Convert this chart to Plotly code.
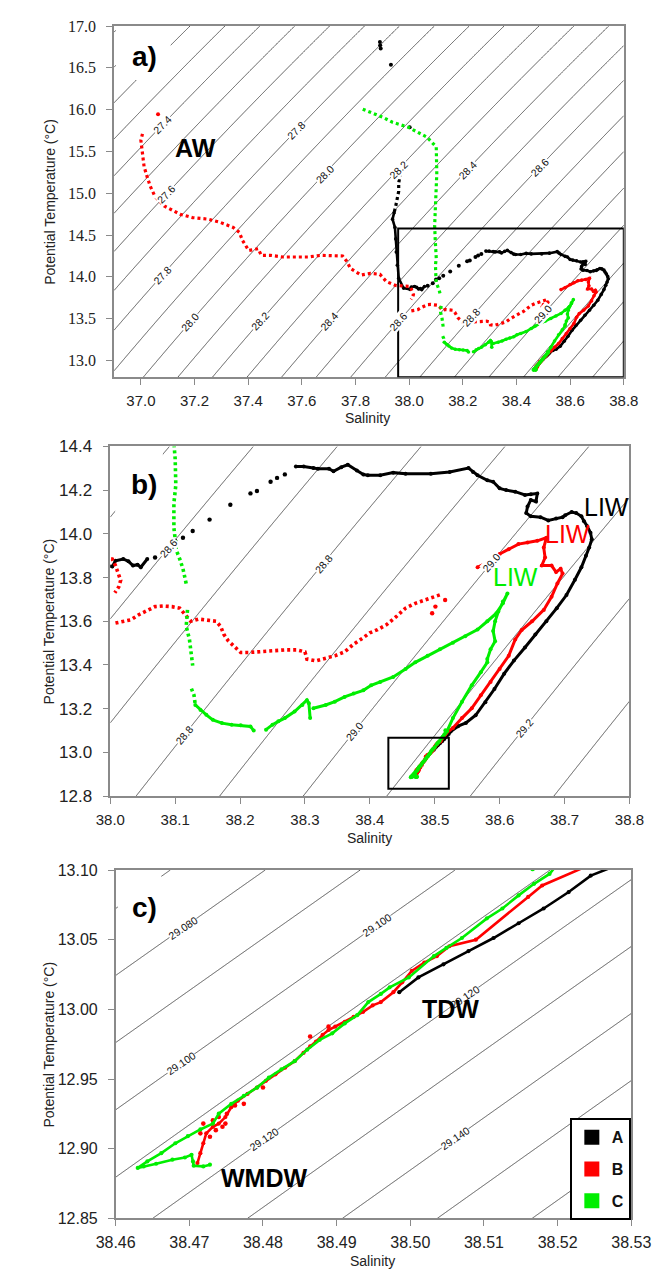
import math
import numpy as np
import plotly.graph_objects as go

# ---------------------------------------------------------------------------
# Profile data (salinity, potential temperature) for stations A, B, C.
# *_LINE : dense parts of the profile, drawn as continuous traces
# *_DOT  : sparsely sampled parts, drawn as dotted traces
# *_PTS  : isolated samples, drawn as single markers
# (None, None) separates unconnected pieces.
# ---------------------------------------------------------------------------
A_PTS = [(37.891, 16.81), (37.892, 16.77), (37.894, 16.73), (37.932, 16.536), (38.002, 15.79),
         (38.069, 13.892), (38.088, 13.923), (38.100, 13.968), (38.112, 13.982), (38.127, 14.013),
         (38.153, 14.065), (38.185, 14.133), (38.216, 14.185), (38.226, 14.196), (38.247, 14.238),
         (38.257, 14.256), (38.269, 14.272)]
A_DOT = [(37.967, 15.239), (37.961, 15.121), (37.961, 15.024), (37.956, 14.926), (37.950, 14.847),
         (37.944, 14.768)]
A_LINE = [(37.944, 14.768), (37.938, 14.690), (37.947, 14.591), (37.950, 14.454), (37.952, 14.296),
          (37.956, 14.140), (37.961, 13.983), (37.979, 13.865), (38.003, 13.850), (38.008, 13.877),
          (38.020, 13.885), (38.028, 13.874), (38.035, 13.855), (38.042, 13.859), (38.047, 13.847),
          (38.057, 13.885), (None, None),
          (38.286, 14.308), (38.298, 14.308), (38.313, 14.301), (38.320, 14.298), (38.337, 14.298),
          (38.344, 14.286), (38.356, 14.305), (38.366, 14.316), (38.380, 14.290), (38.390, 14.271),
          (38.397, 14.268), (38.416, 14.268), (38.436, 14.280), (38.455, 14.275), (38.494, 14.275),
          (38.523, 14.283), (38.552, 14.301), (38.559, 14.283), (38.566, 14.268), (38.581, 14.245),
          (38.590, 14.238), (38.600, 14.208), (38.610, 14.200), (38.624, 14.193), (38.639, 14.178),
          (38.648, 14.181), (38.658, 14.185), (38.656, 14.148), (38.648, 14.155), (38.643, 14.125),
          (38.641, 14.095), (38.648, 14.080), (38.663, 14.076), (38.675, 14.061), (38.687, 14.070),
          (38.697, 14.076), (38.701, 14.085), (38.711, 14.100), (38.718, 14.095), (38.726, 14.080),
          (38.730, 14.058), (38.735, 14.035), (38.740, 14.005), (38.742, 13.975), (38.738, 13.937),
          (38.733, 13.900), (38.726, 13.847), (38.716, 13.790), (38.703, 13.720), (38.688, 13.660),
          (38.672, 13.600), (38.655, 13.540), (38.639, 13.480), (38.622, 13.420), (38.607, 13.360),
          (38.592, 13.290), (38.578, 13.230), (38.563, 13.170), (38.548, 13.135), (38.536, 13.120),
          (38.5245, 13.0960), (38.5215, 13.0842), (38.5181, 13.0724), (38.5147, 13.0618),
          (38.5113, 13.0512), (38.5079, 13.0418), (38.5045, 13.0323), (38.5011, 13.0229),
          (38.4985, 13.0123)]

B_PTS = [(37.064, 15.946), (38.516, 13.697), (38.501, 13.667), (38.496, 13.637),
         (38.4715, 12.9110), (38.4719, 12.9180), (38.4732, 12.9204), (38.4740, 12.9227),
         (38.4749, 12.9180), (38.4751, 12.9251), (38.4736, 12.9133), (38.4728, 12.9086),
         (38.4745, 12.9157), (38.4762, 12.9310), (38.4774, 12.9322), (38.4800, 12.9439),
         (38.4864, 12.9805), (38.4889, 12.9876)]
B_DOT = [(37.006, 15.711), (37.000, 15.633), (37.006, 15.475), (37.012, 15.318), (37.023, 15.200),
         (37.035, 15.083), (37.052, 14.965), (37.087, 14.847), (37.146, 14.749), (37.192, 14.709),
         (37.251, 14.690), (37.297, 14.650), (37.344, 14.591), (37.367, 14.532), (37.379, 14.434),
         (37.402, 14.316), (37.437, 14.336), (37.449, 14.257), (37.484, 14.257), (37.530, 14.237),
         (37.577, 14.237), (37.624, 14.237), (37.670, 14.257), (37.705, 14.257), (37.752, 14.249),
         (37.769, 14.179), (37.781, 14.100), (37.821, 14.022), (37.856, 14.042), (37.891, 14.030),
         (37.915, 13.943), (37.950, 13.896), (37.985, 13.884), (38.003, 13.885), (38.008, 13.855),
         (38.016, 13.787), (38.013, 13.757), (38.007, 13.730), (None, None),
         (38.008, 13.592), (38.020, 13.600), (38.032, 13.607), (38.044, 13.630), (38.057, 13.649),
         (38.069, 13.667), (38.081, 13.670), (38.095, 13.667), (38.107, 13.660), (38.114, 13.637),
         (38.119, 13.615), (38.124, 13.600), (38.136, 13.610), (38.148, 13.607), (38.163, 13.600),
         (38.170, 13.577), (38.175, 13.540), (38.182, 13.510), (38.192, 13.480), (38.201, 13.457),
         (38.213, 13.457), (38.226, 13.460), (38.240, 13.464), (38.255, 13.469), (38.269, 13.469),
         (38.288, 13.469), (38.300, 13.460), (38.303, 13.427), (38.317, 13.419), (38.337, 13.435),
         (38.346, 13.442), (38.361, 13.460), (38.375, 13.495), (38.390, 13.525), (38.400, 13.547),
         (38.412, 13.562), (38.426, 13.585), (38.441, 13.622), (38.455, 13.660), (38.470, 13.682),
         (38.484, 13.697), (38.499, 13.712), (38.511, 13.724)]
B_LINE = [(38.566, 13.847), (38.581, 13.870), (38.600, 13.908), (38.614, 13.930), (38.629, 13.953),
          (38.643, 13.960), (38.658, 13.968), (38.672, 13.982), (38.668, 13.937), (38.670, 13.892),
          (38.665, 13.855), (38.680, 13.855), (38.687, 13.825), (38.694, 13.840), (38.697, 13.818),
          (38.689, 13.773), (38.680, 13.712), (38.668, 13.652), (38.650, 13.600), (38.634, 13.560),
          (38.624, 13.517), (38.614, 13.442), (38.600, 13.382), (38.586, 13.322), (38.571, 13.262),
          (38.557, 13.202), (38.542, 13.157), (38.528, 13.112), (38.5179, 13.0889), (38.5160, 13.0807),
          (38.5089, 13.0500), (38.5053, 13.0453), (38.5036, 13.0382), (38.5019, 13.0335),
          (38.5002, 13.0276), (38.4989, 13.0194), (38.4977, 13.0123), (38.4960, 13.0052),
          (38.4949, 13.0029), (38.4936, 12.9982), (38.4923, 12.9946), (38.4911, 12.9911),
          (38.4898, 12.9876), (38.4889, 12.9852), (38.4881, 12.9817), (38.4872, 12.9769),
          (38.4864, 12.9734), (38.4855, 12.9687), (38.4843, 12.9628), (38.4830, 12.9581),
          (38.4817, 12.9534), (38.4804, 12.9487), (38.4792, 12.9439), (38.4779, 12.9393),
          (38.4766, 12.9345), (38.4757, 12.9298), (38.4749, 12.9227), (38.4740, 12.9180),
          (38.4732, 12.9157), (38.4723, 12.9110), (38.4719, 12.9039), (38.4715, 12.8968),
          (38.4711, 12.8897)]

C_PTS = [(38.5166, 13.1007)]
C_DOT = [(37.827, 16.005), (37.856, 15.966), (37.903, 15.907), (37.938, 15.849), (37.996, 15.790),
         (38.031, 15.731), (38.066, 15.672), (38.101, 15.554), (38.103, 15.397), (38.103, 15.239),
         (38.101, 15.082), (38.099, 14.926), (38.096, 14.768), (38.095, 14.611), (38.097, 14.454),
         (38.100, 14.343), (38.101, 14.223), (38.098, 14.140), (38.098, 14.028), (38.100, 13.968),
         (38.102, 13.923), (38.107, 13.885), (38.112, 13.840), (38.117, 13.772), (None, None),
         (38.119, 13.652), (38.117, 13.577), (38.122, 13.517), (38.125, 13.442), (38.127, 13.397),
         (None, None), (38.125, 13.292), (38.129, 13.262), (38.131, 13.217)]
C_LINE = [(38.131, 13.217), (38.139, 13.194), (38.148, 13.172), (38.158, 13.149), (38.172, 13.134),
          (38.187, 13.127), (38.201, 13.124), (38.216, 13.119), (38.221, 13.100), (None, None),
          (38.240, 13.104), (38.250, 13.127), (38.259, 13.142), (38.269, 13.157), (38.284, 13.187),
          (38.296, 13.217), (38.303, 13.239), (38.306, 13.225), (38.308, 13.157), (None, None),
          (38.313, 13.202), (38.332, 13.217), (38.346, 13.232), (38.361, 13.254), (38.375, 13.269),
          (38.390, 13.284), (38.402, 13.307), (38.416, 13.322), (38.436, 13.345), (38.455, 13.382),
          (38.470, 13.412), (38.489, 13.442), (38.508, 13.472), (38.528, 13.502), (38.547, 13.532),
          (38.566, 13.562), (38.581, 13.600), (38.595, 13.637), (38.605, 13.682), (38.612, 13.727),
          (38.605, 13.690), (38.598, 13.645), (38.593, 13.600), (38.590, 13.555), (38.593, 13.509),
          (38.586, 13.472), (38.581, 13.427), (38.581, 13.412), (38.571, 13.367), (38.557, 13.307),
          (38.542, 13.232), (38.528, 13.157), (38.5189, 13.0972), (38.5168, 13.0901),
          (38.5147, 13.0818), (38.5125, 13.0724), (38.5104, 13.0653), (38.5070, 13.0512),
          (38.5049, 13.0441), (38.5032, 13.0382), (38.4998, 13.0229), (38.4972, 13.0158),
          (38.4960, 13.0111), (38.4943, 13.0052), (38.4928, 12.9958), (38.4911, 12.9899),
          (38.4894, 12.9828), (38.4877, 12.9781), (38.4860, 12.9711), (38.4843, 12.9628),
          (38.4825, 12.9569), (38.4808, 12.9510), (38.4792, 12.9439), (38.4774, 12.9380),
          (38.4757, 12.9322), (38.4740, 12.9251), (38.4732, 12.9180), (38.4715, 12.9138),
          (38.4698, 12.9090), (38.4681, 12.9039), (38.4662, 12.8968), (38.4643, 12.8909),
          (38.4630, 12.8862), (38.4638, 12.8873), (38.4655, 12.8892), (38.4677, 12.8921),
          (38.4694, 12.8937), (38.4703, 12.8956), (38.4705, 12.8909), (38.4706, 12.8878),
          (38.4719, 12.8873), (38.4728, 12.8885)]

STATIONS = ["A", "B", "C"]
COLORS = {"A": "#000000", "B": "#ff0000", "C": "#00ee00"}
SERIES = {"A": (A_LINE, A_DOT, A_PTS), "B": (B_LINE, B_DOT, B_PTS), "C": (C_LINE, C_DOT, C_PTS)}

# Axis ranges and tick values of the three panels
A_XRANGE, A_YRANGE = [36.9, 38.8], [12.8, 17.0]
B_XRANGE, B_YRANGE = [38.0, 38.8], [12.8, 14.4]
C_XRANGE, C_YRANGE = [38.46, 38.53], [12.85, 13.10]
A_XTICKS = [37.0, 37.2, 37.4, 37.6, 37.8, 38.0, 38.2, 38.4, 38.6, 38.8]
A_YTICKS = [13.0, 13.5, 14.0, 14.5, 15.0, 15.5, 16.0, 16.5, 17.0]
B_XTICKS = [38.0, 38.1, 38.2, 38.3, 38.4, 38.5, 38.6, 38.7, 38.8]
B_YTICKS = [12.8, 13.0, 13.2, 13.4, 13.6, 13.8, 14.0, 14.2, 14.4]
C_XTICKS = [38.46, 38.47, 38.48, 38.49, 38.50, 38.51, 38.52, 38.53]
C_YTICKS = [12.85, 12.90, 12.95, 13.00, 13.05, 13.10]

# Isopycnal spacing; every second isopycnal carries a label
A_SIG_STEP, B_SIG_STEP, C_SIG_STEP = 0.1, 0.1, 0.01
SIGMA_BIAS = 0.008  # density offset applied to the isopycnal field

# Where the isopycnal labels sit (salinity, temperature)
A_ISO_LABELS = [(37.100, 15.825), (37.565, 15.754), (37.086, 14.988), (37.695, 15.236),
                (37.960, 15.283), (38.219, 15.283), (38.481, 15.318), (37.076, 14.022),
                (37.156, 13.456), (37.415, 13.468), (37.670, 13.468), (37.950, 13.468),
                (38.229, 13.515), (38.491, 13.550)]
B_ISO_LABELS = [(38.0928, 13.936), (38.3145, 13.864), (38.1174, 13.080), (38.378, 13.098),
                (38.588, 13.870), (38.633, 13.112)]
C_ISO_LABELS = [(38.4678, 13.0583), (38.4678, 12.9614), (38.4942, 13.0604), (38.4793, 12.9069),
                (38.5060, 13.0088), (38.5053, 12.9076)]


def sigma_theta(S, T):
    """UNESCO EOS-80 density anomaly at the surface (kg m-3)."""
    rw = (999.842594 + 6.793952e-2 * T - 9.095290e-3 * T ** 2 + 1.001685e-4 * T ** 3
          - 1.120083e-6 * T ** 4 + 6.536332e-9 * T ** 5)
    a = 8.24493e-1 - 4.0899e-3 * T + 7.6438e-5 * T ** 2 - 8.2467e-7 * T ** 3 + 5.3875e-9 * T ** 4
    b = -5.72466e-3 + 1.0227e-4 * T - 1.6546e-6 * T ** 2
    c = 4.8314e-4
    return rw + a * S + b * S ** 1.5 + c * S ** 2 - 1000.0 + SIGMA_BIAS


W, H = 672, 1279
FONT = "Liberation Sans, Arial, sans-serif"
AXIS_GREY = "#8a8a8a"


def px_x(v):
    return v / W


def px_y(v):
    return 1 - v / H


def unzip(pairs):
    return [p[0] for p in pairs], [p[1] for p in pairs]


# plot-area pixel boxes (left, right, top, bottom)
A_BOX = (100, 642, 17.3, 373.7)
B_BOX = (96, 648, 444, 799)
C_BOX = (101.7, 650, 874, 1227.6)

panels = [
    dict(ax="x", ay="y", xr=A_XRANGE, yr=A_YRANGE, step=A_SIG_STEP, fmt="{:.1f}",
         box=A_BOX, labels=A_ISO_LABELS, ms=3.6, lw=2.6, dw=3.2),
    dict(ax="x2", ay="y2", xr=B_XRANGE, yr=B_YRANGE, step=B_SIG_STEP, fmt="{:.1f}",
         box=B_BOX, labels=B_ISO_LABELS, ms=4.0, lw=3.0, dw=3.6),
    dict(ax="x3", ay="y3", xr=C_XRANGE, yr=C_YRANGE, step=C_SIG_STEP, fmt="{:.3f}",
         box=C_BOX, labels=C_ISO_LABELS, ms=4.2, lw=2.6, dw=3.6),
]

fig = go.Figure()
ann = []

for p in panels:
    sg = np.linspace(p["xr"][0], p["xr"][1], 220)
    tg = np.linspace(p["yr"][0], p["yr"][1], 220)
    SS, TT = np.meshgrid(sg, tg)
    z = sigma_theta(SS, TT)
    s = p["step"]
    lo = np.floor(z.min() / s) * s
    hi = np.ceil(z.max() / s) * s
    fig.add_trace(go.Contour(
        x=sg, y=tg, z=z, xaxis=p["ax"], yaxis=p["ay"], showscale=False, hoverinfo="skip",
        showlegend=False,
        contours=dict(start=lo, end=hi, size=s, coloring="none", showlabels=False),
        line=dict(color="#3a3a3a", width=0.85, smoothing=0)))

    # isopycnal labels: snapped onto the nearest labelled level and turned along the line
    l, r, t, b = p["box"]
    kx = (r - l) / (p["xr"][1] - p["xr"][0])
    ky = (b - t) / (p["yr"][1] - p["yr"][0])
    for (S0, T0) in p["labels"]:
        sig = sigma_theta(S0, T0)
        level = round(sig / (2 * s)) * 2 * s
        gS = (sigma_theta(S0 + 1e-4, T0) - sigma_theta(S0 - 1e-4, T0)) / 2e-4
        gT = (sigma_theta(S0, T0 + 1e-4) - sigma_theta(S0, T0 - 1e-4)) / 2e-4
        S1 = S0 + (level - sig) / gS
        slope_px = (-gS / gT) * ky / kx
        ann.append(dict(text=p["fmt"].format(level), x=S1, y=T0, xref=p["ax"], yref=p["ay"],
                        showarrow=False, textangle=-math.degrees(math.atan(slope_px)),
                        bgcolor="white", borderpad=0,
                        font=dict(family=FONT, size=10.5, color="#111111"),
                        xanchor="center", yanchor="middle"))

    for st in STATIONS:
        line_pts, dot_pts, iso_pts = SERIES[st]
        col = COLORS[st]
        dx, dy = unzip(dot_pts)
        fig.add_trace(go.Scatter(x=dx, y=dy, xaxis=p["ax"], yaxis=p["ay"], mode="lines",
                                 line=dict(color=col, width=p["dw"], dash="3px,3px"),
                                 connectgaps=False, showlegend=False, hoverinfo="skip"))
        lx, ly = unzip(line_pts)
        fig.add_trace(go.Scatter(x=lx, y=ly, xaxis=p["ax"], yaxis=p["ay"], mode="lines+markers",
                                 line=dict(color=col, width=p["lw"]),
                                 marker=dict(color=col, size=p["ms"]),
                                 connectgaps=False, showlegend=False, hoverinfo="skip"))
        ix, iy = unzip(iso_pts)
        fig.add_trace(go.Scatter(x=ix, y=iy, xaxis=p["ax"], yaxis=p["ay"], mode="markers",
                                 marker=dict(color=col, size=p["ms"] + 0.4),
                                 showlegend=False, hoverinfo="skip"))

# legend entries
for st in STATIONS:
    fig.add_trace(go.Scatter(x=[None], y=[None], xaxis="x3", yaxis="y3", mode="markers",
                             name=f"<b>{st}</b>", legendgroup=st, showlegend=True,
                             marker=dict(symbol="square", size=15, color=COLORS[st])))


def xaxis(domain, rng, ticks, anchor, fmt, size):
    return dict(domain=domain, range=rng, tickvals=ticks, tickformat=fmt, anchor=anchor,
                ticks="outside", ticklen=6, tickwidth=1.2, tickcolor=AXIS_GREY,
                showline=True, linecolor=AXIS_GREY, linewidth=1.5, mirror=True,
                showgrid=False, zeroline=False, ticklabelstandoff=3,
                tickfont=dict(family=FONT, size=size, color="#222222"))


def yaxis(domain, rng, ticks, anchor, fmt, size, family=FONT):
    return dict(domain=domain, range=rng, tickvals=ticks, tickformat=fmt, anchor=anchor,
                ticks="outside", ticklen=6, tickwidth=1.2, tickcolor=AXIS_GREY,
                showline=True, linecolor=AXIS_GREY, linewidth=1.5, mirror=True,
                showgrid=False, zeroline=False, ticklabelstandoff=7,
                tickfont=dict(family=family, size=size, color="#222222"))


fig.update_layout(
    width=W, height=H, margin=dict(l=0, r=0, t=0, b=0),
    paper_bgcolor="white", plot_bgcolor="white",
    xaxis=xaxis([px_x(A_BOX[0]), px_x(A_BOX[1])], A_XRANGE, A_XTICKS, "y", ".1f", 15),
    yaxis=yaxis([px_y(A_BOX[3]), px_y(A_BOX[2])], A_YRANGE, A_YTICKS, "x", ".1f", 16,
                family="Liberation Serif, Times New Roman, serif"),
    xaxis2=xaxis([px_x(B_BOX[0]), px_x(B_BOX[1])], B_XRANGE, B_XTICKS, "y2", ".1f", 15),
    yaxis2=yaxis([px_y(B_BOX[3]), px_y(B_BOX[2])], B_YRANGE, B_YTICKS, "x2", ".1f", 17),
    xaxis3=xaxis([px_x(C_BOX[0]), px_x(C_BOX[1])], C_XRANGE, C_XTICKS, "y3", ".2f", 16),
    yaxis3=yaxis([px_y(C_BOX[3]), px_y(C_BOX[2])], C_YRANGE, C_YTICKS, "x3", ".2f", 16),
    showlegend=True,
    legend=dict(x=px_x(649.5), y=px_y(1229.5), xanchor="right", yanchor="bottom",
                bordercolor="#000000", borderwidth=2, bgcolor="white",
                font=dict(family=FONT, size=16, color="#111111"),
                traceorder="grouped", tracegroupgap=8, itemwidth=30),
)

# zoom boxes and white label patches
shapes = [
    dict(type="rect", xref="x", yref="y", x0=37.959, x1=38.8, y0=12.8, y1=14.579,
         line=dict(color="black", width=2), layer="above"),
    dict(type="rect", xref="x2", yref="y2", x0=38.4285, x1=38.5217, y0=12.834, y1=13.067,
         line=dict(color="black", width=2), layer="above"),
    dict(type="rect", xref="x", yref="y", x0=36.907, x1=37.111, y0=16.355, y1=17.02,
         line=dict(width=0), fillcolor="white", layer="above"),
    dict(type="rect", xref="x2", yref="y2", x0=38.0075, x1=38.081, y0=14.094, y1=14.392,
         line=dict(width=0), fillcolor="white", layer="above"),
    dict(type="rect", xref="x3", yref="y3", x0=38.4603, x1=38.4662, y0=13.0604, y1=13.0988,
         line=dict(width=0), fillcolor="white", layer="above"),
]
fig.update_layout(shapes=shapes)


def label(text, x, y, xref, yref, size, color="#000000", bold=True):
    t = f"<b>{text}</b>" if bold else text
    ann.append(dict(text=t, x=x, y=y, xref=xref, yref=yref, showarrow=False,
                    font=dict(family=FONT, size=size, color=color),
                    xanchor="center", yanchor="middle"))


label("a)", 37.013, 16.63, "x", "y", 28)
label("AW", 37.205, 15.54, "x", "y", 25)
label("b)", 38.052, 14.226, "x2", "y2", 28)
label("LIW", 38.764, 14.125, "x2", "y2", 25, bold=False)
label("LIW", 38.704, 13.999, "x2", "y2", 25, color="#ff0000", bold=False)
label("LIW", 38.625, 13.801, "x2", "y2", 25, color="#00ee00", bold=False)
label("c)", 38.4639, 13.0731, "x3", "y3", 28)
label("TDW", 38.5054, 13.0003, "x3", "y3", 25)
label("WMDW", 38.4802, 12.8793, "x3", "y3", 25)

# axis titles
for cy in (195.5, 621.5, 1051):
    ann.append(dict(text="Potential Temperature (°C)", x=px_x(31), y=px_y(cy), xref="paper",
                    yref="paper", showarrow=False, textangle=-90,
                    font=dict(family=FONT, size=14, color="#222222"),
                    xanchor="center", yanchor="middle"))
for cx, cy in ((370, 415), (372, 842), (375, 1271)):
    ann.append(dict(text="Salinity", x=px_x(cx), y=px_y(cy), xref="paper", yref="paper",
                    showarrow=False, font=dict(family=FONT, size=14, color="#222222"),
                    xanchor="center", yanchor="middle"))

fig.update_layout(annotations=ann)

fig.write_html("out.html")
